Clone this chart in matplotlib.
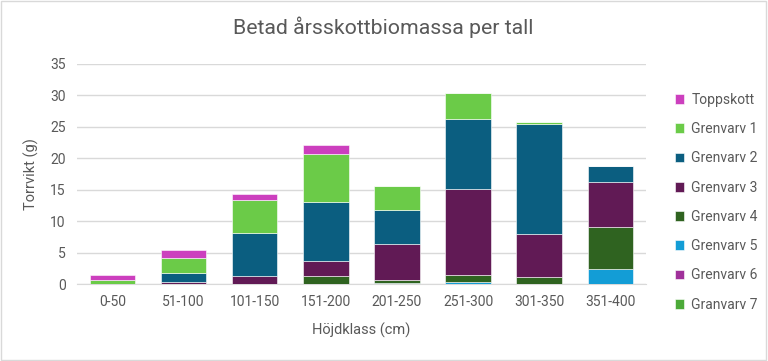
import numpy as np
import matplotlib.pyplot as plt
from matplotlib.patches import Rectangle

plt.rcParams['font.family'] = ['Roboto', 'DejaVu Sans']

# === Data ===
klasser = ["0-50", "51-100", "101-150", "151-200", "201-250", "251-300", "301-350", "351-400"]

granvarv7 = [0, 0, 0, 0, 0, 0, 0, 0]
grenvarv6 = [0, 0, 0, 0, 0, 0, 0, 0]
grenvarv5 = [0, 0, 0, 0, 0.15, 0.3, 0, 2.4]
grenvarv4 = [0, 0, 0, 1.3, 0.5, 1.1, 1.2, 6.7]
grenvarv3 = [0, 0.35, 1.35, 2.3, 5.8, 13.7, 6.7, 7.2]
grenvarv2 = [0, 1.35, 6.7, 9.45, 5.3, 11.2, 17.5, 2.4]
grenvarv1 = [0.7, 2.5, 5.25, 7.55, 3.85, 4.1, 0.3, 0]
toppskott = [0.8, 1.2, 1.05, 1.5, 0, 0, 0, 0]

serier = [
    ("Granvarv 7", granvarv7, "#4CAA38"),
    ("Grenvarv 6", grenvarv6, "#A0309A"),
    ("Grenvarv 5", grenvarv5, "#139DD6"),
    ("Grenvarv 4", grenvarv4, "#2F6320"),
    ("Grenvarv 3", grenvarv3, "#611A55"),
    ("Grenvarv 2", grenvarv2, "#0B5E80"),
    ("Grenvarv 1", grenvarv1, "#6BCB48"),
    ("Toppskott", toppskott, "#CC3FBE"),
]

# === Plot ===
fig = plt.figure(figsize=(7.68, 3.61), dpi=100)
ax = fig.add_axes([0.100, 0.213, 0.741, 0.610])

x = np.arange(len(klasser))
bottom = np.zeros(len(klasser))
handles = []
for namn, vals, farg in serier:
    b = ax.bar(x, vals, 0.64, bottom=bottom, color=farg, edgecolor="white",
               linewidth=0.4, label=namn, zorder=3)
    bottom += np.array(vals)
    handles.append(b)

ax.set_xlim(-0.5, len(klasser) - 0.5)
ax.set_ylim(0, 35)
ax.set_yticks(range(0, 36, 5))
ax.set_xticks(x)
ax.set_xticklabels(klasser)
ax.grid(axis="y", color="#D9D9D9", linewidth=1, zorder=0)
for s in ["top", "right", "left"]:
    ax.spines[s].set_visible(False)
ax.spines["bottom"].set_color("#D9D9D9")
ax.tick_params(axis="both", length=0, labelsize=10, colors="#595959", pad=8)

ax.set_ylabel("Torrvikt (g)", fontsize=10.5, color="#595959", labelpad=8)
ax.set_xlabel("Höjdklass (cm)", fontsize=10.5, color="#595959", labelpad=10)
fig.text(0.499, 0.925, "Betad årsskottbiomassa per tall", ha="center", va="center",
         fontsize=15.3, color="#595959")

fig.legend(handles[::-1], [s[0] for s in serier][::-1], loc="center left",
           bbox_to_anchor=(0.862, 0.44), frameon=False, fontsize=10,
           handlelength=0.7, handleheight=0.7, handletextpad=0.5,
           labelspacing=1.1, labelcolor="#595959")

fig.add_artist(Rectangle((0.001, 0.002), 0.997, 0.995, transform=fig.transFigure,
                         fill=False, edgecolor="#D9D9D9", linewidth=1))

fig.savefig("out.png", dpi=100)
